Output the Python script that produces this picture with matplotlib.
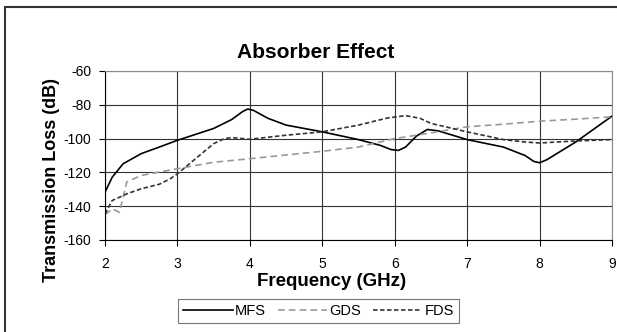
import matplotlib
matplotlib.use("Agg")
import matplotlib.pyplot as plt
from matplotlib.patches import Rectangle

plt.rcParams["font.family"] = ["Liberation Sans", "DejaVu Sans"]
plt.rcParams["axes.unicode_minus"] = False

# values
mfs_f = [2.0, 2.1, 2.25, 2.5, 2.75, 3.0, 3.5, 3.75, 3.9, 3.97, 4.05, 4.25,
         4.5, 5.0, 5.5, 5.8, 5.95, 6.05, 6.15, 6.3, 6.45, 6.6, 7.0, 7.5, 7.8,
         7.92, 8.0, 8.1, 8.5, 9.0]
mfs_v = [-131.7, -122.8, -114.9, -108.9, -105.0, -101.0, -94.0, -88.7, -84.0,
         -82.5, -83.3, -88.0, -92.0, -96.0, -100.6, -104.0, -106.5, -107.0,
         -105.0, -98.5, -94.6, -95.4, -100.6, -105.0, -110.0, -113.5, -114.3,
         -112.5, -102.0, -86.7]

gds_f = [2.0, 2.1, 2.2, 2.3, 2.5, 3.0, 3.5, 4.0, 5.0, 5.5, 6.0, 6.5, 7.0,
         7.5, 8.0, 8.5, 9.0]
gds_v = [-145.0, -141.6, -143.6, -125.7, -121.8, -117.8, -114.0, -111.9,
         -107.5, -105.0, -100.0, -96.6, -93.0, -91.5, -89.7, -88.5, -87.1]

fds_f = [2.0, 2.1, 2.2, 2.3, 2.5, 2.75, 2.9, 3.0, 3.25, 3.5, 3.65, 3.75, 4.0,
         4.5, 5.0, 5.5, 5.9, 6.15, 6.35, 6.5, 7.0, 7.5, 7.8, 8.0, 8.5, 9.0]
fds_v = [-144.6, -136.6, -134.7, -132.7, -129.7, -127.0, -123.8, -120.8,
         -111.9, -103.0, -100.0, -99.4, -100.4, -98.0, -96.0, -92.0, -87.8,
         -86.4, -88.0, -91.0, -96.0, -100.6, -102.0, -102.6, -101.4, -100.6]

W, H = 617, 332
fig = plt.figure(figsize=(W / 100, H / 100), dpi=100)
ax = fig.add_axes([105 / W, 1 - 240 / H, 507 / W, 169 / H])

ax.plot(mfs_f, mfs_v, color="black", lw=1.2, label="MFS")
ax.plot(gds_f, gds_v, color="#999999", lw=1.2, dashes=(4, 2.5), label="GDS")
ax.plot(fds_f, fds_v, color="#333333", lw=1.2, dashes=(2.7, 1.5), label="FDS")

ax.set_xlim(2, 9)
ax.set_ylim(-160, -60)
ax.set_xticks(range(2, 10))
ax.set_yticks(range(-160, -59, 20))
ax.grid(True, color="#333333", lw=0.8)
ax.set_axisbelow(True)
for s in ("top", "right"):
    ax.spines[s].set_color("#888888")
ax.tick_params(direction="out", length=4, labelsize=10)
ax.tick_params(axis="x", pad=8)
ax.tick_params(axis="y", pad=6)

fig.text(332 / W, 1 - 282 / H, "Frequency (GHz)", ha="center", va="center",
         fontsize=13.5, fontweight="bold")
fig.text(52 / W, 1 - 180 / H, "Transmission Loss (dB)", ha="center", va="center",
         rotation=90, fontsize=13, fontweight="bold")
fig.text(316 / W, 1 - 52 / H, "Absorber Effect", ha="center", va="center",
         fontsize=15, fontweight="bold")

leg = fig.legend(loc="center", bbox_to_anchor=(318.5 / W, 1 - 311 / H), ncol=3,
                 fontsize=10.5, frameon=True, fancybox=False, handlelength=3.4,
                 columnspacing=0.8, handletextpad=0.15, borderpad=0.35)
leg.get_frame().set_edgecolor("#555555")
leg.get_frame().set_linewidth(0.8)

fig.patches.append(Rectangle((5 / W, -0.05), 1.2, 1 - 7 / H + 0.05,
                             transform=fig.transFigure, fill=False,
                             edgecolor="#333333", lw=1.5))

fig.savefig("out.png", dpi=100)
